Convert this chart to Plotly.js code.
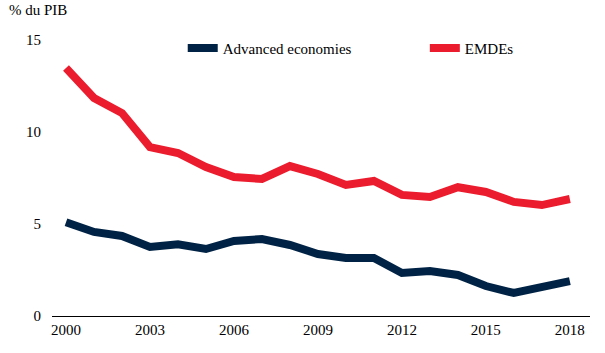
<!DOCTYPE html>
<html>
<head>
<meta charset="utf-8">
<script src="https://cdn.plot.ly/plotly-3.0.1.min.js"></script>
<style>html,body{margin:0;padding:0;background:#fff;}#chart{width:605px;height:353px;}</style>
</head>
<body>
<div id="chart"></div>
<script>
const years = [2000,2001,2002,2003,2004,2005,2006,2007,2008,2009,2010,2011,2012,2013,2014,2015,2016,2017,2018];
const advanced = [5.1,4.57,4.35,3.75,3.9,3.64,4.08,4.18,3.86,3.37,3.15,3.15,2.34,2.45,2.23,1.63,1.25,1.58,1.9];
const emdes = [13.48,11.85,11.03,9.18,8.86,8.1,7.55,7.45,8.15,7.72,7.12,7.34,6.58,6.47,7.0,6.74,6.2,6.03,6.36];
const xTicks = [2000,2003,2006,2009,2012,2015,2018];
const yTicks = [0,5,10,15];
const seriesNames = ["Advanced economies","EMDEs"];

const font = {family:"'Liberation Serif', 'Times New Roman', serif", size:15, color:"#000"};
const traces = [
  {x:years, y:advanced, name:seriesNames[0], type:"scatter", mode:"lines", line:{color:"#002345", width:8}, legend:"legend"},
  {x:years, y:emdes, name:seriesNames[1], type:"scatter", mode:"lines", line:{color:"#EB1C2D", width:8}, legend:"legend2"}
];
const legendBase = {orientation:"h", xref:"paper", yref:"paper", xanchor:"left", yanchor:"middle", y:0.97, font:font, bgcolor:"rgba(0,0,0,0)", itemwidth:30};
const layout = {
  width:605, height:353,
  margin:{l:52, r:15, t:40, b:37},
  paper_bgcolor:"#fff", plot_bgcolor:"#fff",
  font:font,
  showlegend:true,
  legend:Object.assign({}, legendBase, {x:0.243}),
  legend2:Object.assign({}, legendBase, {x:0.693}),
  xaxis:{range:[1999.5,2018.72], tickvals:xTicks, ticktext:xTicks.map(String), showgrid:false, zeroline:false, showline:true, linecolor:"#000", linewidth:1, ticks:"", tickfont:font},
  yaxis:{range:[0,15], tickvals:yTicks, showgrid:false, zeroline:false, showline:false, ticks:"", tickfont:font, ticklabelstandoff:10},
  annotations:[{text:"% du PIB", xref:"paper", yref:"paper", x:-0.084, y:1.11, xanchor:"left", yanchor:"middle", showarrow:false, font:font}]
};
Plotly.newPlot("chart", traces, layout, {displayModeBar:false, staticPlot:true});
</script>
</body>
</html>
